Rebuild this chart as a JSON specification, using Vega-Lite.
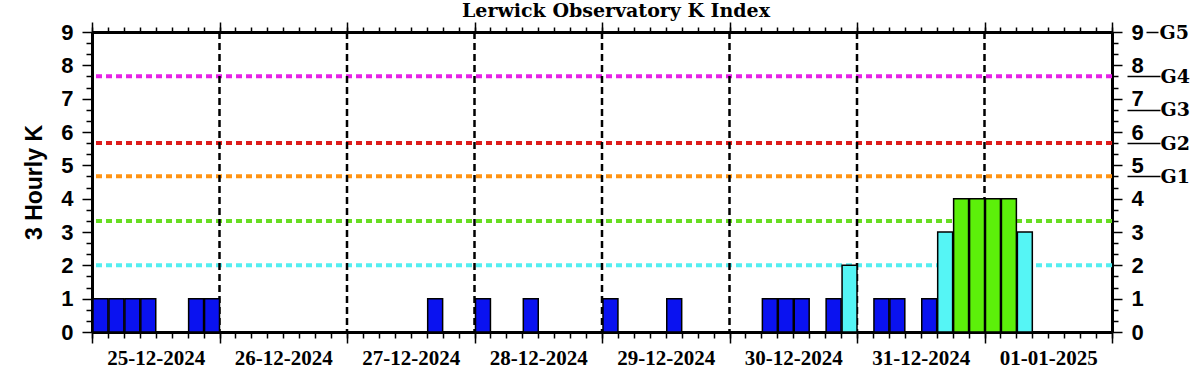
{
  "$schema": "https://vega.github.io/schema/vega-lite/v6.json",
  "width": 1020,
  "height": 300,
  "autosize": {"type": "none"},
  "padding": {"left": 92, "top": 32, "right": 91, "bottom": 43},
  "background": "white",
  "title": {
    "text": "Lerwick Observatory K Index",
    "font": "DejaVu Serif",
    "fontSize": 19,
    "fontWeight": "bold",
    "color": "black",
    "anchor": "middle",
    "frame": "group",
    "dx": 14,
    "offset": 0
  },
  "config": {
    "view": {"stroke": null},
    "axis": {
      "domainColor": "black",
      "domainWidth": 3,
      "tickColor": "black",
      "tickWidth": 1.5,
      "labelColor": "black",
      "titleColor": "black",
      "grid": false
    }
  },
  "datasets": {
    "kindex": [
      {"time": "2024-12-25T00:00:00Z", "k": 1},
      {"time": "2024-12-25T03:00:00Z", "k": 1},
      {"time": "2024-12-25T06:00:00Z", "k": 1},
      {"time": "2024-12-25T09:00:00Z", "k": 1},
      {"time": "2024-12-25T18:00:00Z", "k": 1},
      {"time": "2024-12-25T21:00:00Z", "k": 1},
      {"time": "2024-12-27T15:00:00Z", "k": 1},
      {"time": "2024-12-28T00:00:00Z", "k": 1},
      {"time": "2024-12-28T09:00:00Z", "k": 1},
      {"time": "2024-12-29T00:00:00Z", "k": 1},
      {"time": "2024-12-29T12:00:00Z", "k": 1},
      {"time": "2024-12-30T06:00:00Z", "k": 1},
      {"time": "2024-12-30T09:00:00Z", "k": 1},
      {"time": "2024-12-30T12:00:00Z", "k": 1},
      {"time": "2024-12-30T18:00:00Z", "k": 1},
      {"time": "2024-12-30T21:00:00Z", "k": 2},
      {"time": "2024-12-31T03:00:00Z", "k": 1},
      {"time": "2024-12-31T06:00:00Z", "k": 1},
      {"time": "2024-12-31T12:00:00Z", "k": 1},
      {"time": "2024-12-31T15:00:00Z", "k": 3},
      {"time": "2024-12-31T18:00:00Z", "k": 4},
      {"time": "2024-12-31T21:00:00Z", "k": 4},
      {"time": "2025-01-01T00:00:00Z", "k": 4},
      {"time": "2025-01-01T03:00:00Z", "k": 4},
      {"time": "2025-01-01T06:00:00Z", "k": 3}
    ],
    "thresholds": [
      {"level": 2},
      {"level": 3.33},
      {"level": 4.67},
      {"level": 5.67},
      {"level": 7.67}
    ],
    "days": [
      {"day": "2024-12-26T00:00:00Z"},
      {"day": "2024-12-27T00:00:00Z"},
      {"day": "2024-12-28T00:00:00Z"},
      {"day": "2024-12-29T00:00:00Z"},
      {"day": "2024-12-30T00:00:00Z"},
      {"day": "2024-12-31T00:00:00Z"},
      {"day": "2025-01-01T00:00:00Z"}
    ],
    "gscale": [
      {"level": 4.67, "storm": "G1"},
      {"level": 5.67, "storm": "G2"},
      {"level": 6.67, "storm": "G3"},
      {"level": 7.67, "storm": "G4"},
      {"level": 9, "storm": "G5"}
    ]
  },
  "resolve": {
    "scale": {"color": "independent"},
    "axis": {"x": "independent", "y": "independent"}
  },
  "layer": [
    {
      "data": {"name": "thresholds"},
      "mark": {"type": "rule", "strokeWidth": 4, "strokeDash": [6, 4]},
      "encoding": {
        "y": {
          "field": "level",
          "type": "quantitative",
          "scale": {"domain": [0, 9], "nice": false, "zero": true},
          "axis": {
            "orient": "right",
            "title": null,
            "values": [0, 1, 2, 3, 4, 5, 6, 7, 8, 9],
            "tickSize": 10,
            "labelFont": "Liberation Sans",
            "labelFontWeight": "bold",
            "labelFontSize": 22,
            "labelPadding": 9
          }
        },
        "color": {
          "field": "level",
          "type": "ordinal",
          "scale": {"domain": [2, 3.33, 4.67, 5.67, 7.67], "range": ["#55eef0", "#66dd22", "#ff9414", "#dd1c1c", "#e622e6"]},
          "legend": null
        }
      }
    },
    {
      "data": {"name": "days"},
      "mark": {"type": "rule", "color": "black", "strokeWidth": 2.5, "strokeDash": [7, 4]},
      "encoding": {
        "x": {
          "field": "day",
          "type": "temporal",
          "scale": {"type": "utc", "domain": [{"year": 2024, "month": 12, "date": 25, "utc": true}, {"year": 2025, "month": 1, "date": 2, "utc": true}]},
          "axis": {
            "orient": "top",
            "title": null,
            "tickCount": {"interval": "day", "step": 1},
            "tickSize": 10,
            "labels": false
          }
        }
      }
    },
    {
      "data": {"name": "gscale"},
      "transform": [{"filter": "datum.level < 9"}],
      "mark": {"type": "tick", "opacity": 0},
      "encoding": {
        "y": {
          "field": "level",
          "type": "quantitative",
          "axis": {
            "orient": "right",
            "title": null,
            "offset": 15,
            "domain": false,
            "values": [4.67, 5.67, 6.67, 7.67],
            "tickSize": 33,
            "tickWidth": 1.5,
            "labelExpr": "datum.value < 5 ? 'G1' : datum.value < 6 ? 'G2' : datum.value < 7 ? 'G3' : 'G4'",
            "labelFont": "DejaVu Serif",
            "labelFontWeight": "bold",
            "labelFontSize": 19,
            "labelPadding": 0,
            "labelOverlap": false,
            "labelBound": false,
            "labelFlush": false
          }
        }
      }
    },
    {
      "data": {"name": "gscale"},
      "transform": [{"filter": "datum.level == 9"}],
      "mark": {"type": "tick", "opacity": 0},
      "encoding": {
        "y": {
          "field": "level",
          "type": "quantitative",
          "axis": {
            "orient": "right",
            "title": null,
            "offset": 34,
            "domain": false,
            "values": [9],
            "tickSize": 12,
            "tickWidth": 1.5,
            "labelExpr": "'G5'",
            "labelFont": "DejaVu Serif",
            "labelFontWeight": "bold",
            "labelFontSize": 19,
            "labelPadding": 1,
            "labelOverlap": false,
            "labelBound": false,
            "labelFlush": false
          }
        }
      }
    },
    {
      "data": {"name": "kindex"},
      "mark": {"type": "bar", "opacity": 0},
      "encoding": {
        "x": {
          "field": "time",
          "type": "temporal",
          "timeUnit": {"unit": "utcyearmonthdatehours", "step": 3},
          "axis": {
            "orient": "bottom",
            "title": null,
            "domain": false,
            "tickCount": {"interval": "hours", "step": 3},
            "tickSize": 6,
            "labelExpr": "utchours(datum.value) == 12 ? utcFormat(datum.value, '%d-%m-%Y') : ''",
            "labelFont": "Liberation Serif",
            "labelFontWeight": "bold",
            "labelFontSize": 21,
            "labelPadding": 9,
            "labelOverlap": false,
            "labelBound": false,
            "labelFlush": false
          }
        },
        "y": {
          "field": "k",
          "type": "quantitative",
          "axis": {
            "orient": "left",
            "title": null,
            "domain": false,
            "values": [0.3333, 0.6667, 1.3333, 1.6667, 2.3333, 2.6667, 3.3333, 3.6667, 4.3333, 4.6667, 5.3333, 5.6667, 6.3333, 6.6667, 7.3333, 7.6667, 8.3333, 8.6667],
            "tickSize": 6,
            "labels": false
          }
        }
      }
    },
    {
      "data": {"name": "kindex"},
      "mark": {"type": "bar", "opacity": 0},
      "encoding": {
        "x": {
          "field": "time",
          "type": "temporal",
          "timeUnit": {"unit": "utcyearmonthdatehours", "step": 3},
          "axis": {
            "orient": "top",
            "title": null,
            "domain": false,
            "tickCount": {"interval": "hours", "step": 3},
            "tickSize": 5,
            "labels": false
          }
        },
        "y": {
          "field": "k",
          "type": "quantitative",
          "axis": {
            "orient": "right",
            "title": null,
            "domain": false,
            "values": [0.3333, 0.6667, 1.3333, 1.6667, 2.3333, 2.6667, 3.3333, 3.6667, 4.3333, 4.6667, 5.3333, 5.6667, 6.3333, 6.6667, 7.3333, 7.6667, 8.3333, 8.6667],
            "tickSize": 6,
            "labels": false
          }
        }
      }
    },
    {
      "data": {"name": "kindex"},
      "mark": {"type": "bar", "stroke": "black", "strokeWidth": 1.5},
      "encoding": {
        "x": {
          "field": "time",
          "type": "temporal",
          "timeUnit": {"unit": "utcyearmonthdatehours", "step": 3},
          "scale": {"type": "utc"},
          "axis": {
            "orient": "bottom",
            "title": null,
            "tickCount": {"interval": "day", "step": 1},
            "tickSize": 11,
            "labels": false
          }
        },
        "y": {
          "field": "k",
          "type": "quantitative",
          "axis": {
            "orient": "left",
            "title": "3 Hourly K",
            "titleFont": "Liberation Sans",
            "titleFontWeight": "bold",
            "titleFontSize": 23,
            "titlePadding": 14,
            "values": [0, 1, 2, 3, 4, 5, 6, 7, 8, 9],
            "tickSize": 10,
            "labelFont": "Liberation Sans",
            "labelFontWeight": "bold",
            "labelFontSize": 22,
            "labelPadding": 9
          }
        },
        "color": {
          "field": "k",
          "type": "ordinal",
          "scale": {"domain": [1, 2, 3, 4], "range": ["#0a12f0", "#55f5f5", "#55f5f5", "#5cf00a"]},
          "legend": null
        }
      }
    }
  ]
}
